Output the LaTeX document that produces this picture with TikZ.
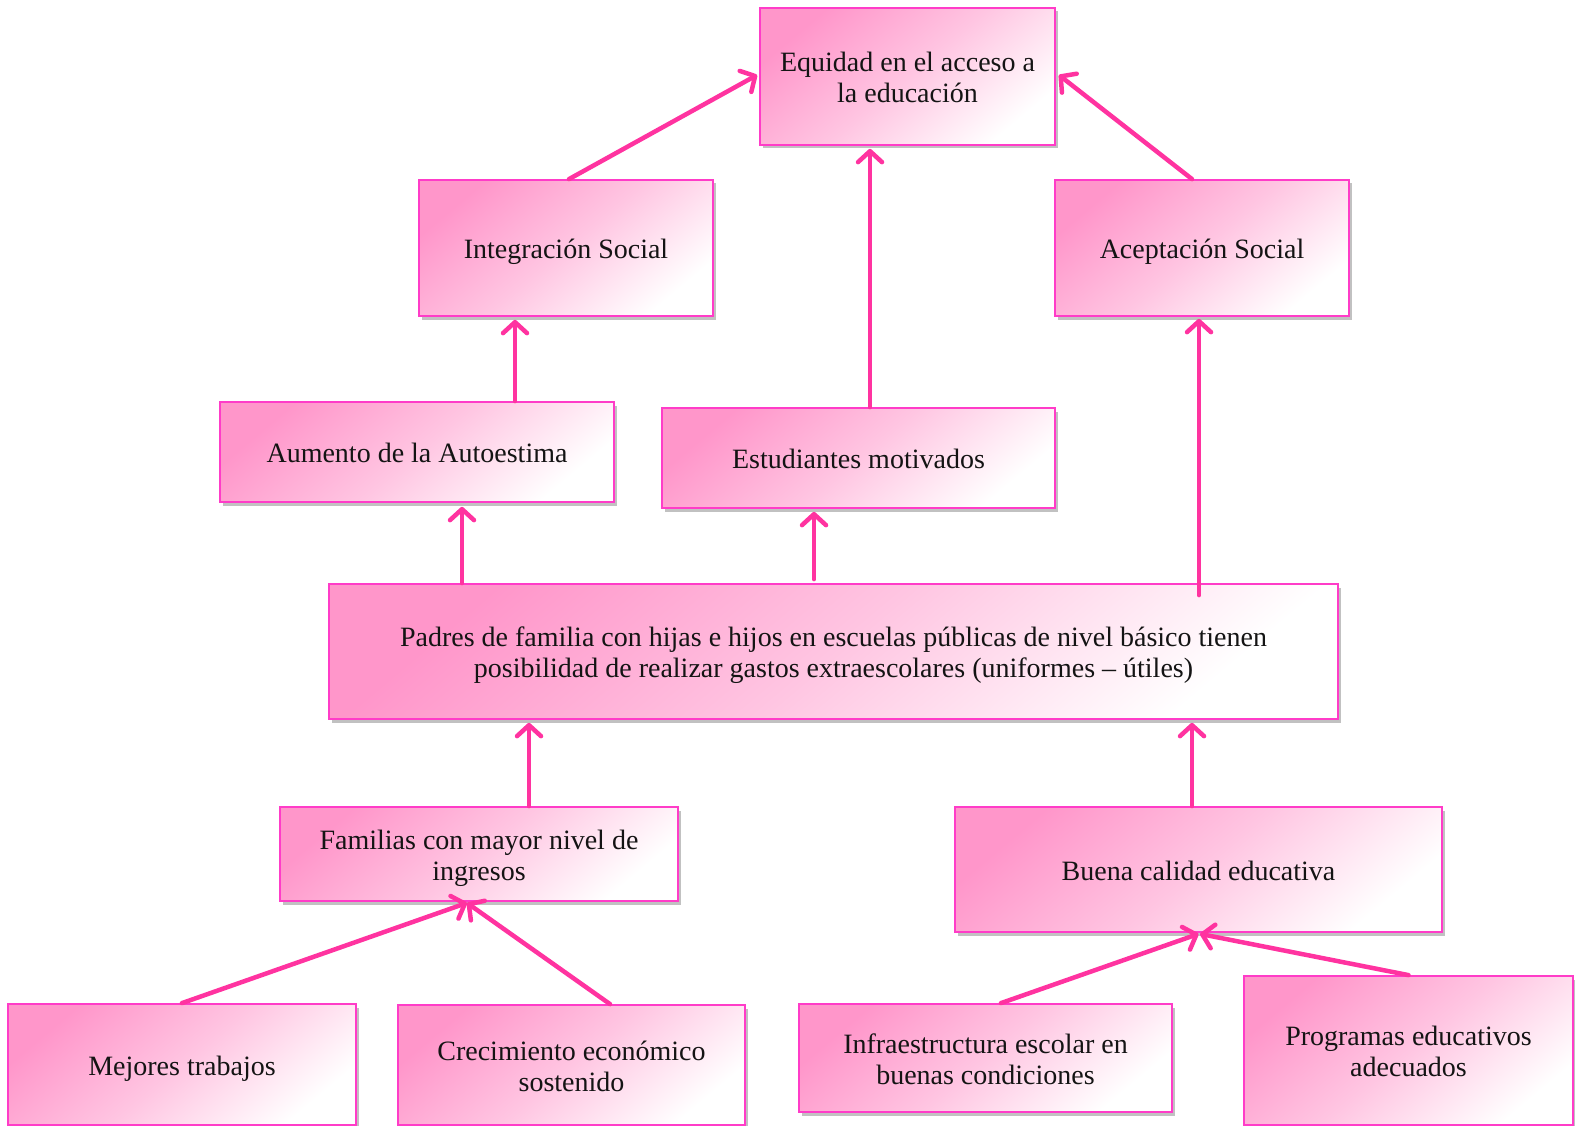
\documentclass[tikz,border=0pt]{standalone}
\usepackage{fontspec}
\setmainfont{Liberation Serif}
\usetikzlibrary{arrows.meta,shadows,calc}
\definecolor{linepink}{RGB}{255,51,160}
\definecolor{borderpink}{RGB}{255,60,200}
\definecolor{fillpink}{RGB}{255,150,202}
\newcommand{\TwoL}[2]{\raisebox{-4.5pt}[\height][\depth]{\begin{tabular}{@{}c@{}}#1\\#2\end{tabular}}}
\tikzset{
  box/.style={draw=borderpink, line width=1.8pt, rectangle, align=center,
    top color=fillpink, bottom color=white, middle color=fillpink!55!white, shading angle=40,
    drop shadow={shadow xshift=2.5pt, shadow yshift=-3.5pt, opacity=0.35, fill=black!70},
    font=\fontsize{28}{31}\selectfont, text=black!92, inner sep=0pt,
    execute at begin node={\rule{0pt}{29pt}},
    execute at end node={\rule[-8pt]{0pt}{0pt}}},
  conn/.style={draw=linepink, line width=4.5pt, line cap=round,
    -{Straight Barb[length=11pt,width=24pt,line cap=round,line join=round]}}
}
\begin{document}
\begin{tikzpicture}[x=1pt,y=-1pt]
\useasboundingbox (0,0) rectangle (1575,1126);
\node[box, minimum width=295pt, minimum height=137pt] (eq) at (907.5,76.5) {\TwoL{Equidad en el acceso a}{la educación}};
\node[box, minimum width=294pt, minimum height=136pt] (int) at (566,248) {Integración Social};
\node[box, minimum width=294pt, minimum height=136pt] (acep) at (1202,248) {Aceptación Social};
\node[box, minimum width=394pt, minimum height=100pt] (aum) at (417,452) {Aumento de la Autoestima};
\node[box, minimum width=393pt, minimum height=100pt] (est) at (858.5,458) {Estudiantes motivados};
\node[box, minimum width=1009pt, minimum height=135pt] (pad) at (833.5,651.5) {\TwoL{Padres de familia con hijas e hijos en escuelas públicas de nivel básico tienen}{posibilidad de realizar gastos extraescolares (uniformes – útiles)}};
\node[box, minimum width=398pt, minimum height=94pt] (fam) at (479,854) {\TwoL{Familias con mayor nivel de}{ingresos}};
\node[box, minimum width=487pt, minimum height=125pt] (bue) at (1198.5,869.5) {Buena calidad educativa};
\node[box, minimum width=348pt, minimum height=121pt] (mej) at (182,1064.5) {Mejores trabajos};
\node[box, minimum width=347pt, minimum height=120pt] (cre) at (571.5,1065) {\TwoL{Crecimiento económico}{sostenido}};
\node[box, minimum width=373pt, minimum height=108pt] (inf) at (985.5,1058) {\TwoL{Infraestructura escolar en}{buenas condiciones}};
\node[box, minimum width=329pt, minimum height=149pt] (pro) at (1408.5,1050.5) {\TwoL{Programas educativos}{adecuados}};

\draw[conn] ([xshift=3pt]int.north) -- ([xshift=-2pt,yshift=1.5pt]eq.west);
\draw[conn] ([xshift=11.5pt]est.north) -- ([xshift=11.5pt,yshift=-3pt]est.north |- eq.south);
\draw[conn] ([xshift=-10pt]acep.north) -- ([xshift=3pt,yshift=1.5pt]eq.east);
\draw[conn] ([xshift=98pt]aum.north) -- ([xshift=98pt,yshift=-3pt]aum.north |- int.south);
\draw[conn] ([xshift=45pt]aum.south |- pad.north) -- ([xshift=45pt,yshift=-4pt]aum.south);
\draw[conn] ([xshift=-44.5pt,yshift=4pt]est.south |- pad.north) -- ([xshift=-44.5pt,yshift=-3pt]est.south);
\draw[conn] ([xshift=-3pt,yshift=-12pt]acep.south |- pad.north) -- ([xshift=-3pt,yshift=-2pt]acep.south);
\draw[conn] ([xshift=50pt]fam.north) -- ([xshift=50pt,yshift=-3pt]fam.north |- pad.south);
\draw[conn] ([xshift=-6.5pt]bue.north) -- ([xshift=-6.5pt,yshift=-3pt]bue.north |- pad.south);
\draw[conn] (mej.north) -- ([xshift=-12pt,yshift=-1pt]fam.south);
\draw[conn] ([xshift=38.5pt]cre.north) -- ([xshift=-12pt,yshift=-1pt]fam.south);
\draw[conn] ([xshift=15.5pt]inf.north) -- ([yshift=-1pt]bue.south);
\draw[conn] (pro.north) -- ([xshift=1.5pt,yshift=-1pt]bue.south);
\end{tikzpicture}
\end{document}
